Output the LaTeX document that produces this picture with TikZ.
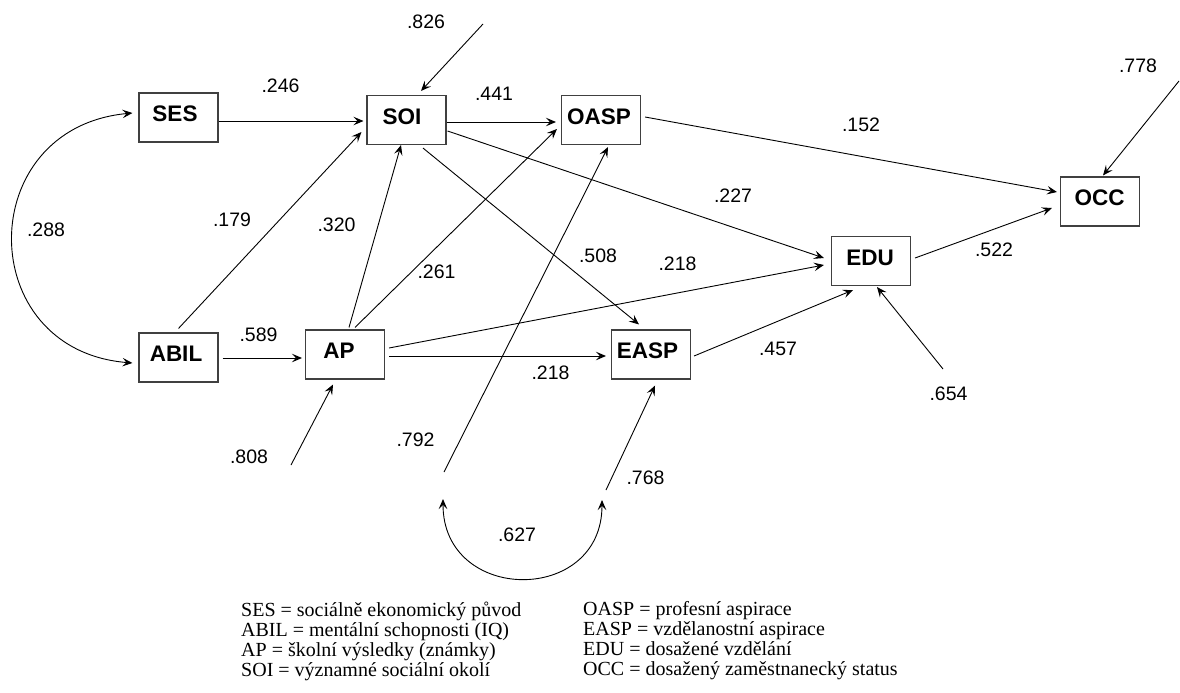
\documentclass[tikz,border=0pt]{standalone}
\usepackage{fontspec}
\setmainfont{Liberation Serif}
\setsansfont{Liberation Sans}
\usetikzlibrary{arrows.meta,calc}

\tikzset{
  varbox/.style={draw=black!75, line width=1.1pt, minimum width=79pt, minimum height=49pt,
    inner sep=0pt, font=\sffamily\bfseries\fontsize{22.5}{27}\selectfont,
    text height=16pt, text depth=8pt, execute at end node={\hspace*{#1}}},
  varbox/.default=6pt,
  tip/.tip={Stealth[length=10pt,width=8.5pt,inset=4pt]},
  link/.style={line width=0.9pt, -tip},
  cov/.style={line width=0.9pt, tip-tip},
  coef/.style={font=\sffamily\fontsize{19.5}{23}\selectfont, inner sep=0pt},
  legendtext/.style={font=\rmfamily\fontsize{20}{20}\selectfont, inner sep=0pt, anchor=base west},
}

\begin{document}
\begin{tikzpicture}[x=1pt,y=-1pt]
\useasboundingbox (0,0) rectangle (1180,693);

% variables
\node[varbox=7pt]  (ses)  at (178.5,117.5) {SES};
\node[varbox=5pt]  (abil) at (178.5,357.5) {ABIL};
\node[varbox=9pt]  (soi)  at (406.5,120)   {SOI};
\node[varbox=4pt]  (oasp) at (601,120)     {OASP};
\node[varbox=12pt] (ap)   at (345,354.5)   {AP};
\node[varbox=7pt]  (easp) at (651,354.5)   {EASP};
\node[varbox=2pt]  (edu)  at (871,261)     {EDU};
\node[varbox=1pt]  (occ)  at (1100,201.5)  {OCC};

% structural paths
\draw[link] ($(ses.east)+(0,3.5)$)    -- ($(soi.west)+(-3,1)$);
\draw[link] ($(abil.north)+(0,-4)$)   -- ($(soi.west)+(-5,12)$);
\draw[link] ($(abil.east)+(4,0.5)$)   -- ($(ap.west)+(-3,3.5)$);
\draw[link] ($(ap.north)+(4,-2)$)     -- ($(soi.south)+(-5.5,0)$);
\draw[link] ($(ap.north)+(10,-2)$)    -- ($(oasp.west)+(-4,9)$);
\draw[link] ($(soi.east)+(0,2)$)      -- ($(oasp.west)+(-5,2)$);
\draw[link] ($(soi.east)+(1,11)$)     -- ($(edu.west)+(-7,-3)$);
\draw[link] ($(soi.south)+(16.5,3)$)  -- ($(easp.north)+(-12,-5)$);
\draw[link] ($(oasp.east)+(4,-3)$)    -- ($(occ.west)+(-3,-9.5)$);
\draw[link] ($(ap.east)+(4,-6.5)$)    -- ($(edu.west)+(-7,4)$);
\draw[link] ($(ap.east)+(4,1.5)$)     -- ($(easp.west)+(-5,1.5)$);
\draw[link] ($(easp.east)+(3,1.5)$)   -- ($(edu.south)+(-18,4)$);
\draw[link] ($(edu.east)+(4,-3)$)     -- ($(occ.west)+(-8,6.5)$);

% disturbance terms
\coordinate (esoi)  at (483,24);
\coordinate (eocc)  at (1179,81);
\coordinate (eap)   at (291,465);
\coordinate (eedu)  at (943,369);
\coordinate (eoasp) at (444,472);
\coordinate (eeasp) at (606,490);
\draw[link] (esoi)  -- ($(soi.north)+(14.5,-4)$);
\draw[link] (eocc)  -- ($(occ.north)+(3,-1)$);
\draw[link] (eap)   -- ($(ap.south)+(-12,5)$);
\draw[link] (eedu)  -- ($(edu.south)+(6,1)$);
\draw[link] (eoasp) -- ($(oasp.south)+(7,2)$);
\draw[link] (eeasp) -- ($(easp.south)+(4,6)$);

% correlations
\coordinate (cl) at (443,499);
\coordinate (cr) at (602,500);
\draw[cov] (cl) .. controls (443,604) and (602,605) .. (cr);
\draw[cov] ($(ses.west)+(-6,-4.5)$) .. controls (-27,128) and (-27,350) .. ($(abil.west)+(-6,5.5)$);

% coefficients
\node[coef] (k246)  at (280.5,86)    {.246};
\node[coef] (k179)  at (232,219.5)   {.179};
\node[coef] (k320)  at (336.5,224.5) {.320};
\node[coef] (k261)  at (436.5,272)   {.261};
\node[coef] (k589)  at (258.5,334.5) {.589};
\node[coef] (k441)  at (494,93.5)    {.441};
\node[coef] (k826)  at (426,21.5)    {.826};
\node[coef] (k227)  at (733,195.5)   {.227};
\node[coef] (k508)  at (598,255.5)   {.508};
\node[coef] (k218a) at (677.5,264)   {.218};
\node[coef] (k152)  at (861,124.5)   {.152};
\node[coef] (k522)  at (994,250)     {.522};
\node[coef] (k457)  at (778,349)     {.457};
\node[coef] (k654)  at (948.5,393.5) {.654};
\node[coef] (k778)  at (1138,65.5)   {.778};
\node[coef] (k218b) at (550.5,372.5) {.218};
\node[coef] (k792)  at (415.5,439.5) {.792};
\node[coef] (k808)  at (249,456.5)   {.808};
\node[coef] (k768)  at (645.5,477.5) {.768};
\node[coef] (k627)  at (517,534.5)   {.627};
\node[coef] (k288)  at (46,230)      {.288};

% key to abbreviations
\node[legendtext] (g1) at (241,616) {SES = sociálně ekonomický původ};
\node[legendtext] (g2) at (241,636) {ABIL = mentální schopnosti (IQ)};
\node[legendtext] (g3) at (241,656) {AP = školní výsledky (známky)};
\node[legendtext] (g4) at (241,676) {SOI = významné sociální okolí};
\node[legendtext] (g5) at (583,615) {OASP = profesní aspirace};
\node[legendtext] (g6) at (583,635) {EASP = vzdělanostní aspirace};
\node[legendtext] (g7) at (583,655) {EDU = dosažené vzdělání};
\node[legendtext] (g8) at (583,675) {OCC = dosažený zaměstnanecký status};
\end{tikzpicture}
\end{document}
